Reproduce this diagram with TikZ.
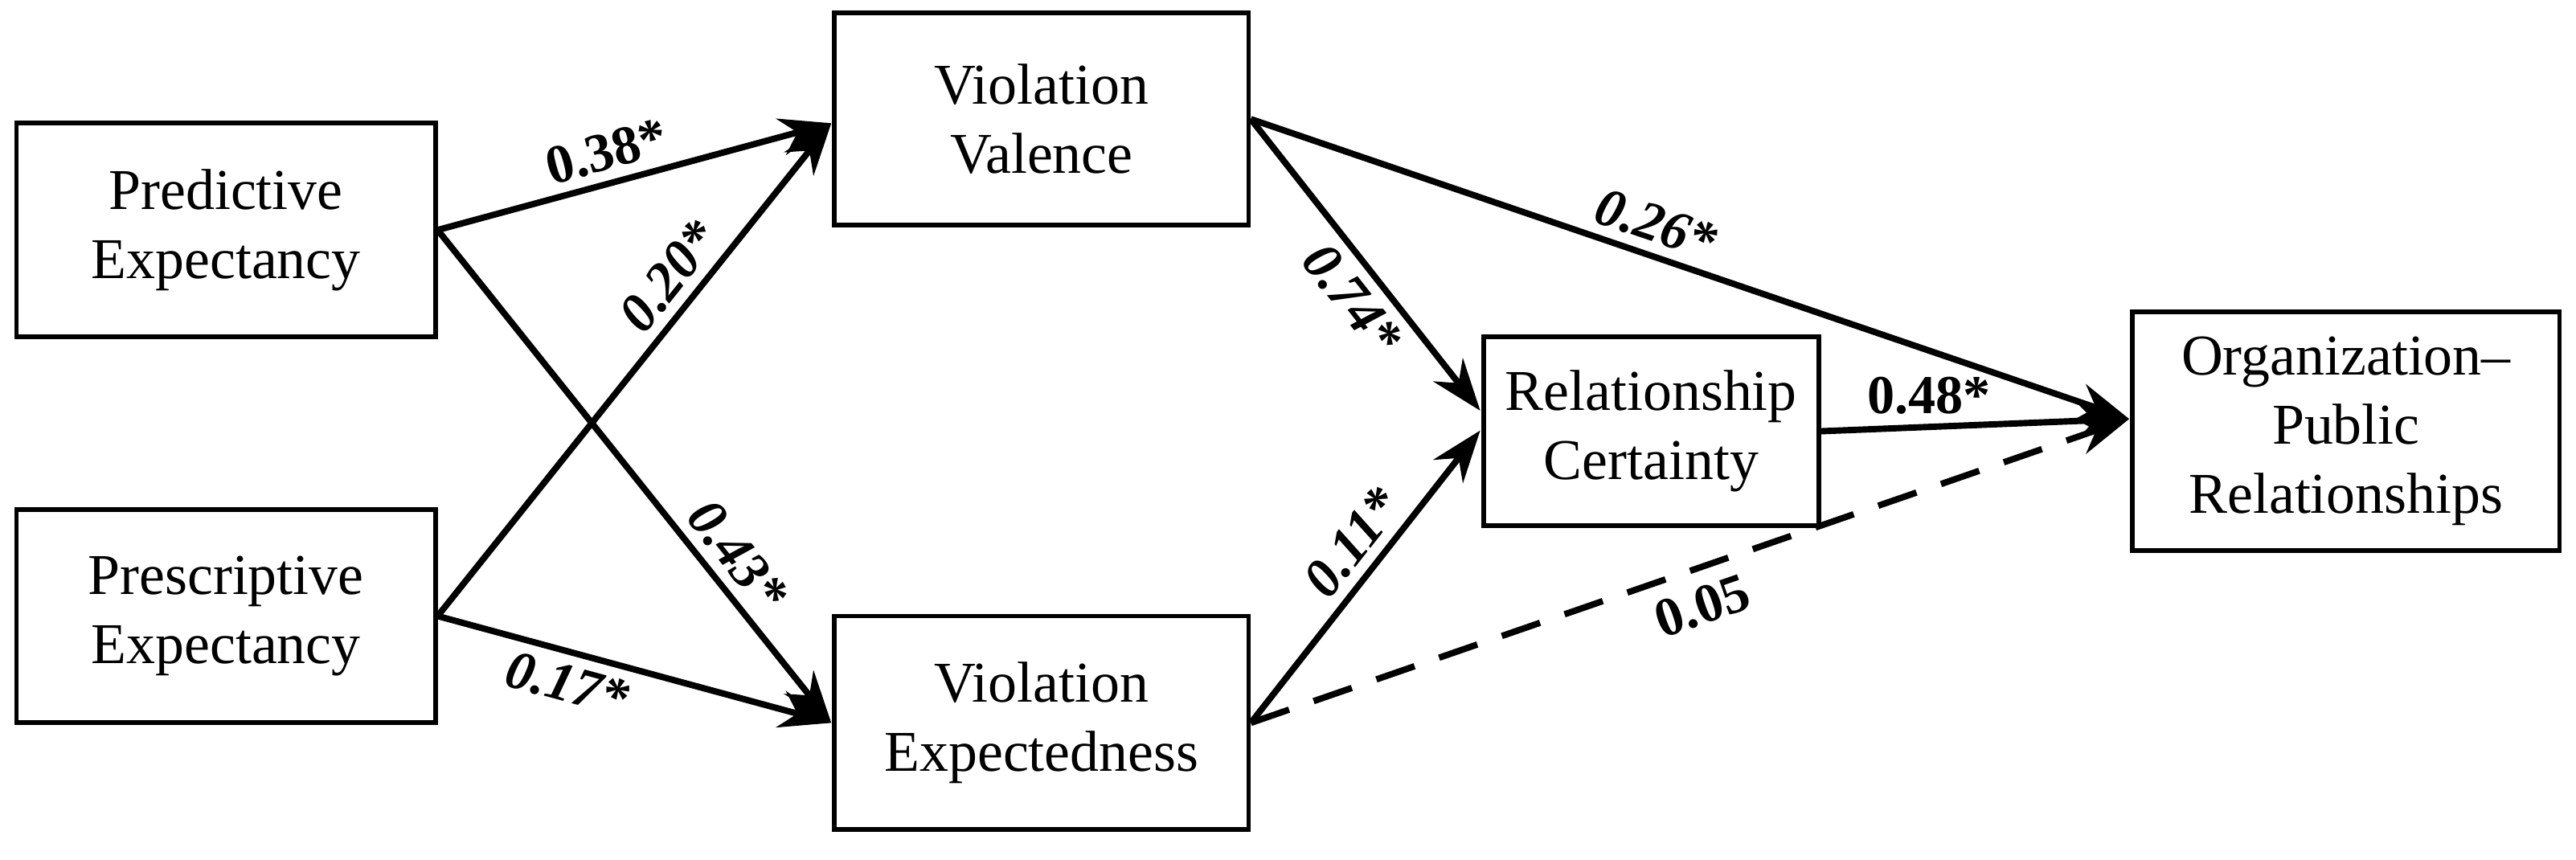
\documentclass[tikz,border=0pt]{standalone}
\usepackage{fontspec}
\setmainfont{Liberation Serif}
\usetikzlibrary{arrows.meta}
\begin{document}
\begin{tikzpicture}[x=0.02cm,y=-0.02cm,
 box/.style={draw,line width=1.6pt,align=center,font=\fontsize{20}{24}\selectfont,inner sep=0pt},
 arr/.style={line width=2.2pt,-{Stealth[length=18pt,width=13pt]}},
 lab/.style={font=\fontsize{19}{22}\selectfont\bfseries}]
\useasboundingbox (0,0) rectangle (1568,523);
\node[box,minimum width=255*0.02cm,minimum height=130*0.02cm] (pe) at (137.5,140) {Predictive\\Expectancy};
\node[box,minimum width=255*0.02cm,minimum height=130*0.02cm] (pr) at (137.5,375) {Prescriptive\\Expectancy};
\node[box,minimum width=252*0.02cm,minimum height=129*0.02cm] (vv) at (634,72.5) {Violation\\Valence};
\node[box,minimum width=252*0.02cm,minimum height=130*0.02cm] (ve) at (634,440) {Violation\\Expectedness};
\node[box,minimum width=204*0.02cm,minimum height=115*0.02cm] (rc) at (1005,262.5) {Relationship\\Certainty};
\node[box,minimum width=260*0.02cm,minimum height=145*0.02cm] (op) at (1428,262.5) {Organization--\\Public\\Relationships};
\coordinate (vvin) at (506,75);
\coordinate (vein) at (506,440);
\coordinate (rcin1) at (901,250);
\coordinate (rcin2) at (901,262);
\coordinate (opin) at (1296,255);
\draw[arr] (pe.east) -- (vvin) node[lab,pos=0.45,above,sloped] {0.38*};
\draw[arr] (pe.east) -- (vein) node[lab,pos=0.7,above,sloped] {\itshape 0.43*};
\draw[arr] (pr.east) -- (vvin) node[lab,pos=0.65,above,sloped] {\itshape 0.20*};
\draw[arr] (pr.east) -- (vein) node[lab,pos=0.35,below,sloped] {\itshape 0.17*};
\draw[arr] (vv.east) -- (rcin1) node[lab,pos=0.55,below,sloped] {\itshape 0.74*};
\draw[arr] (ve.east) -- (rcin2) node[lab,pos=0.55,above,sloped] {\itshape 0.11*};
\draw[arr] (vv.east) -- (opin) node[lab,pos=0.45,above,sloped] {\itshape 0.26*};
\draw[arr] (rc.east) -- (opin) node[lab,pos=0.35,above] {0.48*};
\draw[arr,dash pattern=on 14pt off 9pt] (ve.east) -- (opin) node[lab,pos=0.5,below=2pt,sloped] {0.05};
\end{tikzpicture}
\end{document}
